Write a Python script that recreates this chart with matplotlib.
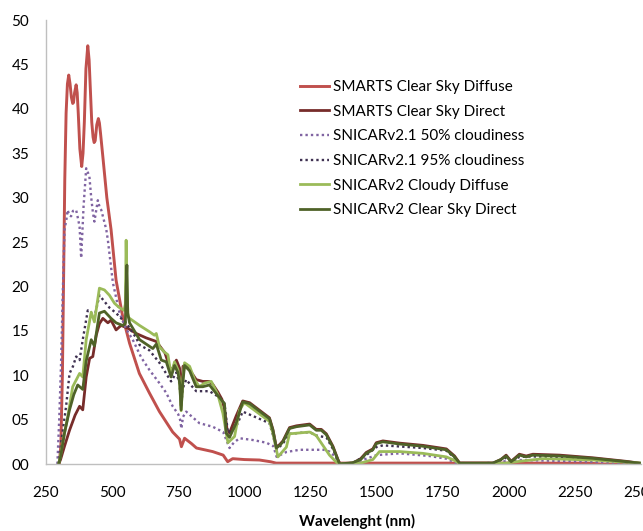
import matplotlib
matplotlib.use("Agg")
import matplotlib.pyplot as plt

plt.rcParams['font.family'] = ['Lato', 'DejaVu Sans']

# ---------------- data ----------------
wl_smarts_dif = [300, 306, 312, 317, 321, 326, 331, 336, 341, 346, 351, 354, 358, 364, 368, 372, 378,
                 385, 390, 395, 401, 408, 413, 418, 423, 428, 432, 436, 442, 448, 452, 456, 465, 480,
                 496, 515, 540, 566, 603, 641, 679, 729, 755, 762, 774, 800, 819, 880, 920, 937, 956,
                 1000, 1057, 1100, 1120, 1200, 1400, 1800, 2300, 2350, 2500]
smarts_dif = [0, 2, 10, 22, 32, 39.5, 42.8, 43.8, 42.8, 41.3, 40.6, 40.7, 41.8, 42.7, 41.8, 39.5, 35.5,
              33.5, 35, 38.5, 44.5, 47.1, 45.5, 42, 38.5, 36.8, 36.2, 36.4, 38.2, 38.9, 38.4, 37.3, 34.6, 30,
              26.4, 20.7, 16.6, 13.6, 10.2, 8.0, 5.9, 3.6, 2.8, 1.95, 2.9, 2.3, 1.8, 1.4, 1.0, 0.26, 0.6,
              0.5, 0.45, 0.25, 0.1, 0.1, 0.1, 0.1, 0.1, 0, 0]

wl_smarts_dir = [298, 305, 320, 339, 360, 377, 389, 402, 415, 427, 440, 452, 465, 484, 496, 515,
                 534, 559, 591, 629, 667, 700, 723, 743, 755, 761, 768, 780, 800, 818, 843, 868,
                 880, 900, 915, 925, 935, 944, 969, 994, 1020, 1095, 1108, 1121, 1134, 1146, 1171,
                 1197, 1247, 1272, 1291, 1310, 1335, 1354, 1362, 1410, 1440, 1461, 1486, 1499, 1524,
                 1587, 1675, 1764, 1795, 1814, 1940, 1970, 1990, 2009, 2040, 2066, 2091, 2192, 2318,
                 2444, 2494]
smarts_dir = [0, 0.5, 2.0, 3.8, 5.5, 6.5, 6.1, 9.8, 11.9, 12.1, 14.5, 15.8, 16.4, 15.9, 16.2, 15.1,
              15.6, 15.3, 14.7, 14.2, 13.8, 12.5, 10.4, 11.7, 10.8, 6.6, 11.0, 11.2, 10.3, 9.5, 9.3, 9.3,
              9.0, 8.1, 7.3, 6.2, 3.8, 3.5, 5.4, 7.1, 6.9, 5.2, 3.9, 1.9, 2.2, 2.6, 4.1,
              4.3, 4.5, 3.9, 3.9, 3.4, 2.0, 0.5, 0, 0.1, 0.6, 1.3, 1.7, 2.4, 2.6,
              2.35, 2.1, 1.7, 0.9, 0.1, 0.1, 0.5, 1.0, 0.3, 1.1, 0.9, 1.1, 1.0, 0.7,
              0.3, 0.1]

wl_snicar50 = [293, 300, 307, 313, 320, 327, 332, 338, 345, 352, 364, 372, 377, 383, 392, 402, 414,
               421, 427, 433, 446, 452, 459, 478, 484, 503, 528, 553, 578, 610, 641, 679, 705, 729,
               750, 757, 762, 768, 780, 830, 880, 920, 932, 944, 960, 982, 1032, 1083, 1110, 1122,
               1135, 1159, 1209, 1300, 1322, 1345, 1360, 1400, 1447, 1500, 1587, 1700, 1764, 1802,
               1900, 1965, 2040, 2266, 2450, 2500]
snicar50 = [0, 5, 11.4, 18.8, 26.4, 27.5, 28.6, 28.0, 27.9, 28.5, 28.6, 27.5, 26.7, 23.2, 29, 33.3, 32.4,
            30, 28.4, 27.3, 29.7, 29, 28.6, 26.4, 25.2, 20.4, 17, 15.2, 14, 12, 10.6, 9.1, 8.0, 6.5,
            5.6, 5.0, 4.0, 5.3, 5.9, 4.6, 4.2, 3.6, 2.7, 1.8, 2.4, 2.9, 2.7, 2.4, 2.0, 0.8,
            1.0, 1.35, 1.6, 1.6, 1.4, 0.8, 0, 0.1, 0.45, 1.0, 1.2, 0.9, 0.6, 0.1,
            0.05, 0.25, 0.45, 0.3, 0.1, 0.05]

wl_snicar95 = [297, 310, 326, 339, 352, 364, 377, 389, 408, 421, 433, 452, 471, 490, 515, 534, 553,
               591, 604, 641, 679, 723, 743, 755, 761, 767, 780, 818, 868, 906, 925, 938, 969, 994,
               1095, 1108, 1121, 1146, 1171, 1247, 1272, 1310, 1335, 1354, 1360, 1410, 1461, 1499,
               1524, 1675, 1764, 1795, 1814, 1940, 1990, 2009, 2040, 2091, 2192, 2318, 2444, 2494]
snicar95 = [0, 3, 6.5, 10.2, 11, 12.1, 11.7, 14.0, 17.3, 17.0, 16.5, 19.0, 18.3, 17.6, 17.0, 16.4, 15.9,
            14.2, 13.4, 12.8, 11.4, 9.3, 10.3, 9.0, 6.5, 8.5, 9.5, 8.2, 8.2, 7.5, 6.8, 3.5, 4.2, 5.9,
            4.6, 3.3, 1.6, 2.3, 3.4, 3.6, 3.2, 3.0, 1.7, 0.4, 0, 0.1, 1.0, 1.9,
            2.1, 1.8, 1.5, 0.7, 0.1, 0.05, 0.7, 0.2, 0.8, 0.85, 0.8, 0.55, 0.2, 0.05]

wl_cloudy_dif = [298, 305, 320, 332, 351, 377, 389, 402, 421, 433, 452, 471, 490, 509, 528, 545, 550,
                 553, 556, 560, 566, 604, 641, 660, 667, 679, 698, 711, 723, 736, 749, 755, 761, 767,
                 774, 793, 812, 830, 849, 875, 900, 919, 938, 963, 982, 1000, 1095, 1108, 1127, 1159,
                 1171, 1247, 1272, 1297, 1322, 1348, 1360, 1440, 1486, 1511, 1587, 1675, 1764, 1795,
                 1814, 1990, 2040, 2129, 2318, 2444, 2500]
cloudy_dif = [0, 1.0, 3.5, 5.3, 8.7, 10.2, 9.8, 14.0, 17.1, 16.0, 19.8, 19.6, 19.0, 18.1, 17.6, 17.3, 18,
              25.2, 20, 16.6, 16.4, 15.6, 14.9, 14.5, 14.7, 13.2, 12.6, 12.3, 10.0, 11.5, 10.6, 9.5, 6.0, 9.5,
              11.4, 11.0, 9.5, 8.7, 9.1, 9.3, 7.8, 5.7, 2.4, 3.1, 6.1, 6.9, 4.8, 3.5, 0.8, 1.9,
              3.4, 3.6, 3.2, 2.1, 1.0, 0.2, 0, 0.1, 0.5, 1.4, 1.4, 1.2, 0.8, 0.4,
              0.05, 0.1, 0.3, 0.6, 0.45, 0.2, 0.1]

wl_clear_dir = [298, 305, 320, 339, 355, 370, 389, 402, 421, 433, 452, 471, 496, 515, 540, 550, 553,
                556, 559, 566, 604, 654, 667, 686, 705, 723, 736, 749, 756, 761, 767, 774, 793, 818,
                843, 868, 900, 925, 931, 944, 969, 994, 1020, 1095, 1108, 1121, 1134, 1146, 1171,
                1197, 1247, 1272, 1291, 1310, 1335, 1354, 1360, 1410, 1440, 1461, 1486, 1499, 1524,
                1587, 1675, 1764, 1795, 1814, 1940, 1970, 1990, 2009, 2040, 2066, 2091, 2192, 2318,
                2444, 2494]
clear_dir = [0, 0.8, 3.5, 6.1, 7.8, 8.9, 8.4, 11.6, 14.0, 13.3, 17.0, 17.2, 16.4, 15.9, 15.6, 15.8, 20,
             22.4, 17, 15.9, 14.0, 13.0, 13.5, 11.7, 11.5, 9.8, 11.1, 10.3, 9, 6.1, 9, 11.1, 10.5, 8.7,
             8.7, 8.9, 7.7, 6.8, 3.5, 3.0, 4.6, 7.0, 6.8, 5.1, 3.8, 1.8, 2.1, 2.5, 4.0,
             4.2, 4.4, 3.8, 3.8, 3.3, 1.9, 0.45, 0, 0.15, 0.5, 1.2, 1.6, 2.3, 2.5,
             2.25, 2.0, 1.6, 0.8, 0.1, 0.1, 0.5, 0.9, 0.26, 1.0, 0.8, 1.0, 0.9, 0.64,
             0.26, 0.1]

labels = ["SMARTS Clear Sky Diffuse", "SMARTS Clear Sky Direct", "SNICARv2.1 50% cloudiness",
          "SNICARv2.1 95% cloudiness", "SNICARv2 Cloudy Diffuse", "SNICARv2 Clear Sky Direct"]
x_ticks = [250, 500, 750, 1000, 1250, 1500, 1750, 2000, 2250, 2500]
y_ticks = [0, 5, 10, 15, 20, 25, 30, 35, 40, 45, 50]
y_ticklabels = ["00", "05", "10", "15", "20", "25", "30", "35", "40", "45", "50"]

# ---------------- plot ----------------
fig = plt.figure(figsize=(6.43, 5.31), dpi=100)
ax = fig.add_axes([46/643, 67/531, (641-46)/643, (464-20)/531])

dots = (0, (1, 1.3))
ax.plot(wl_smarts_dif, smarts_dif, color="#C0504D", lw=2.1, label=labels[0])
ax.plot(wl_smarts_dir, smarts_dir, color="#772C2A", lw=2.0, label=labels[1])
ax.plot(wl_snicar50, snicar50, color="#8064A2", lw=1.7, linestyle=dots, label=labels[2])
ax.plot(wl_snicar95, snicar95, color="#3F3151", lw=1.7, linestyle=dots, label=labels[3])
ax.plot(wl_cloudy_dif, cloudy_dif, color="#9BBB59", lw=2.0, label=labels[4])
ax.plot(wl_clear_dir, clear_dir, color="#4F6228", lw=2.0, label=labels[5])

ax.set_xlim(250, 2500)
ax.set_ylim(0, 50)
ax.set_xticks(x_ticks)
ax.set_yticks(y_ticks)
ax.set_yticklabels(y_ticklabels)
ax.tick_params(axis='both', length=0, labelsize=11, colors="#000000")
ax.tick_params(axis='y', pad=12)
ax.tick_params(axis='x', pad=16)

for s in ["top", "right"]:
    ax.spines[s].set_visible(False)
for s in ["left", "bottom"]:
    ax.spines[s].set_color("#BFBFBF")
    ax.spines[s].set_linewidth(1.0)

fig.text(357/643, 1 - 521/531, "Wavelenght (nm)", ha="center", va="center",
         fontsize=11, fontweight="bold")

leg = fig.legend(loc="upper left", bbox_to_anchor=(300/643, 1 - 80/531), frameon=False,
                 fontsize=11, handlelength=1.9, handletextpad=0.25, labelspacing=0.7,
                 borderpad=0, borderaxespad=0)

fig.savefig("out.png", dpi=100)
